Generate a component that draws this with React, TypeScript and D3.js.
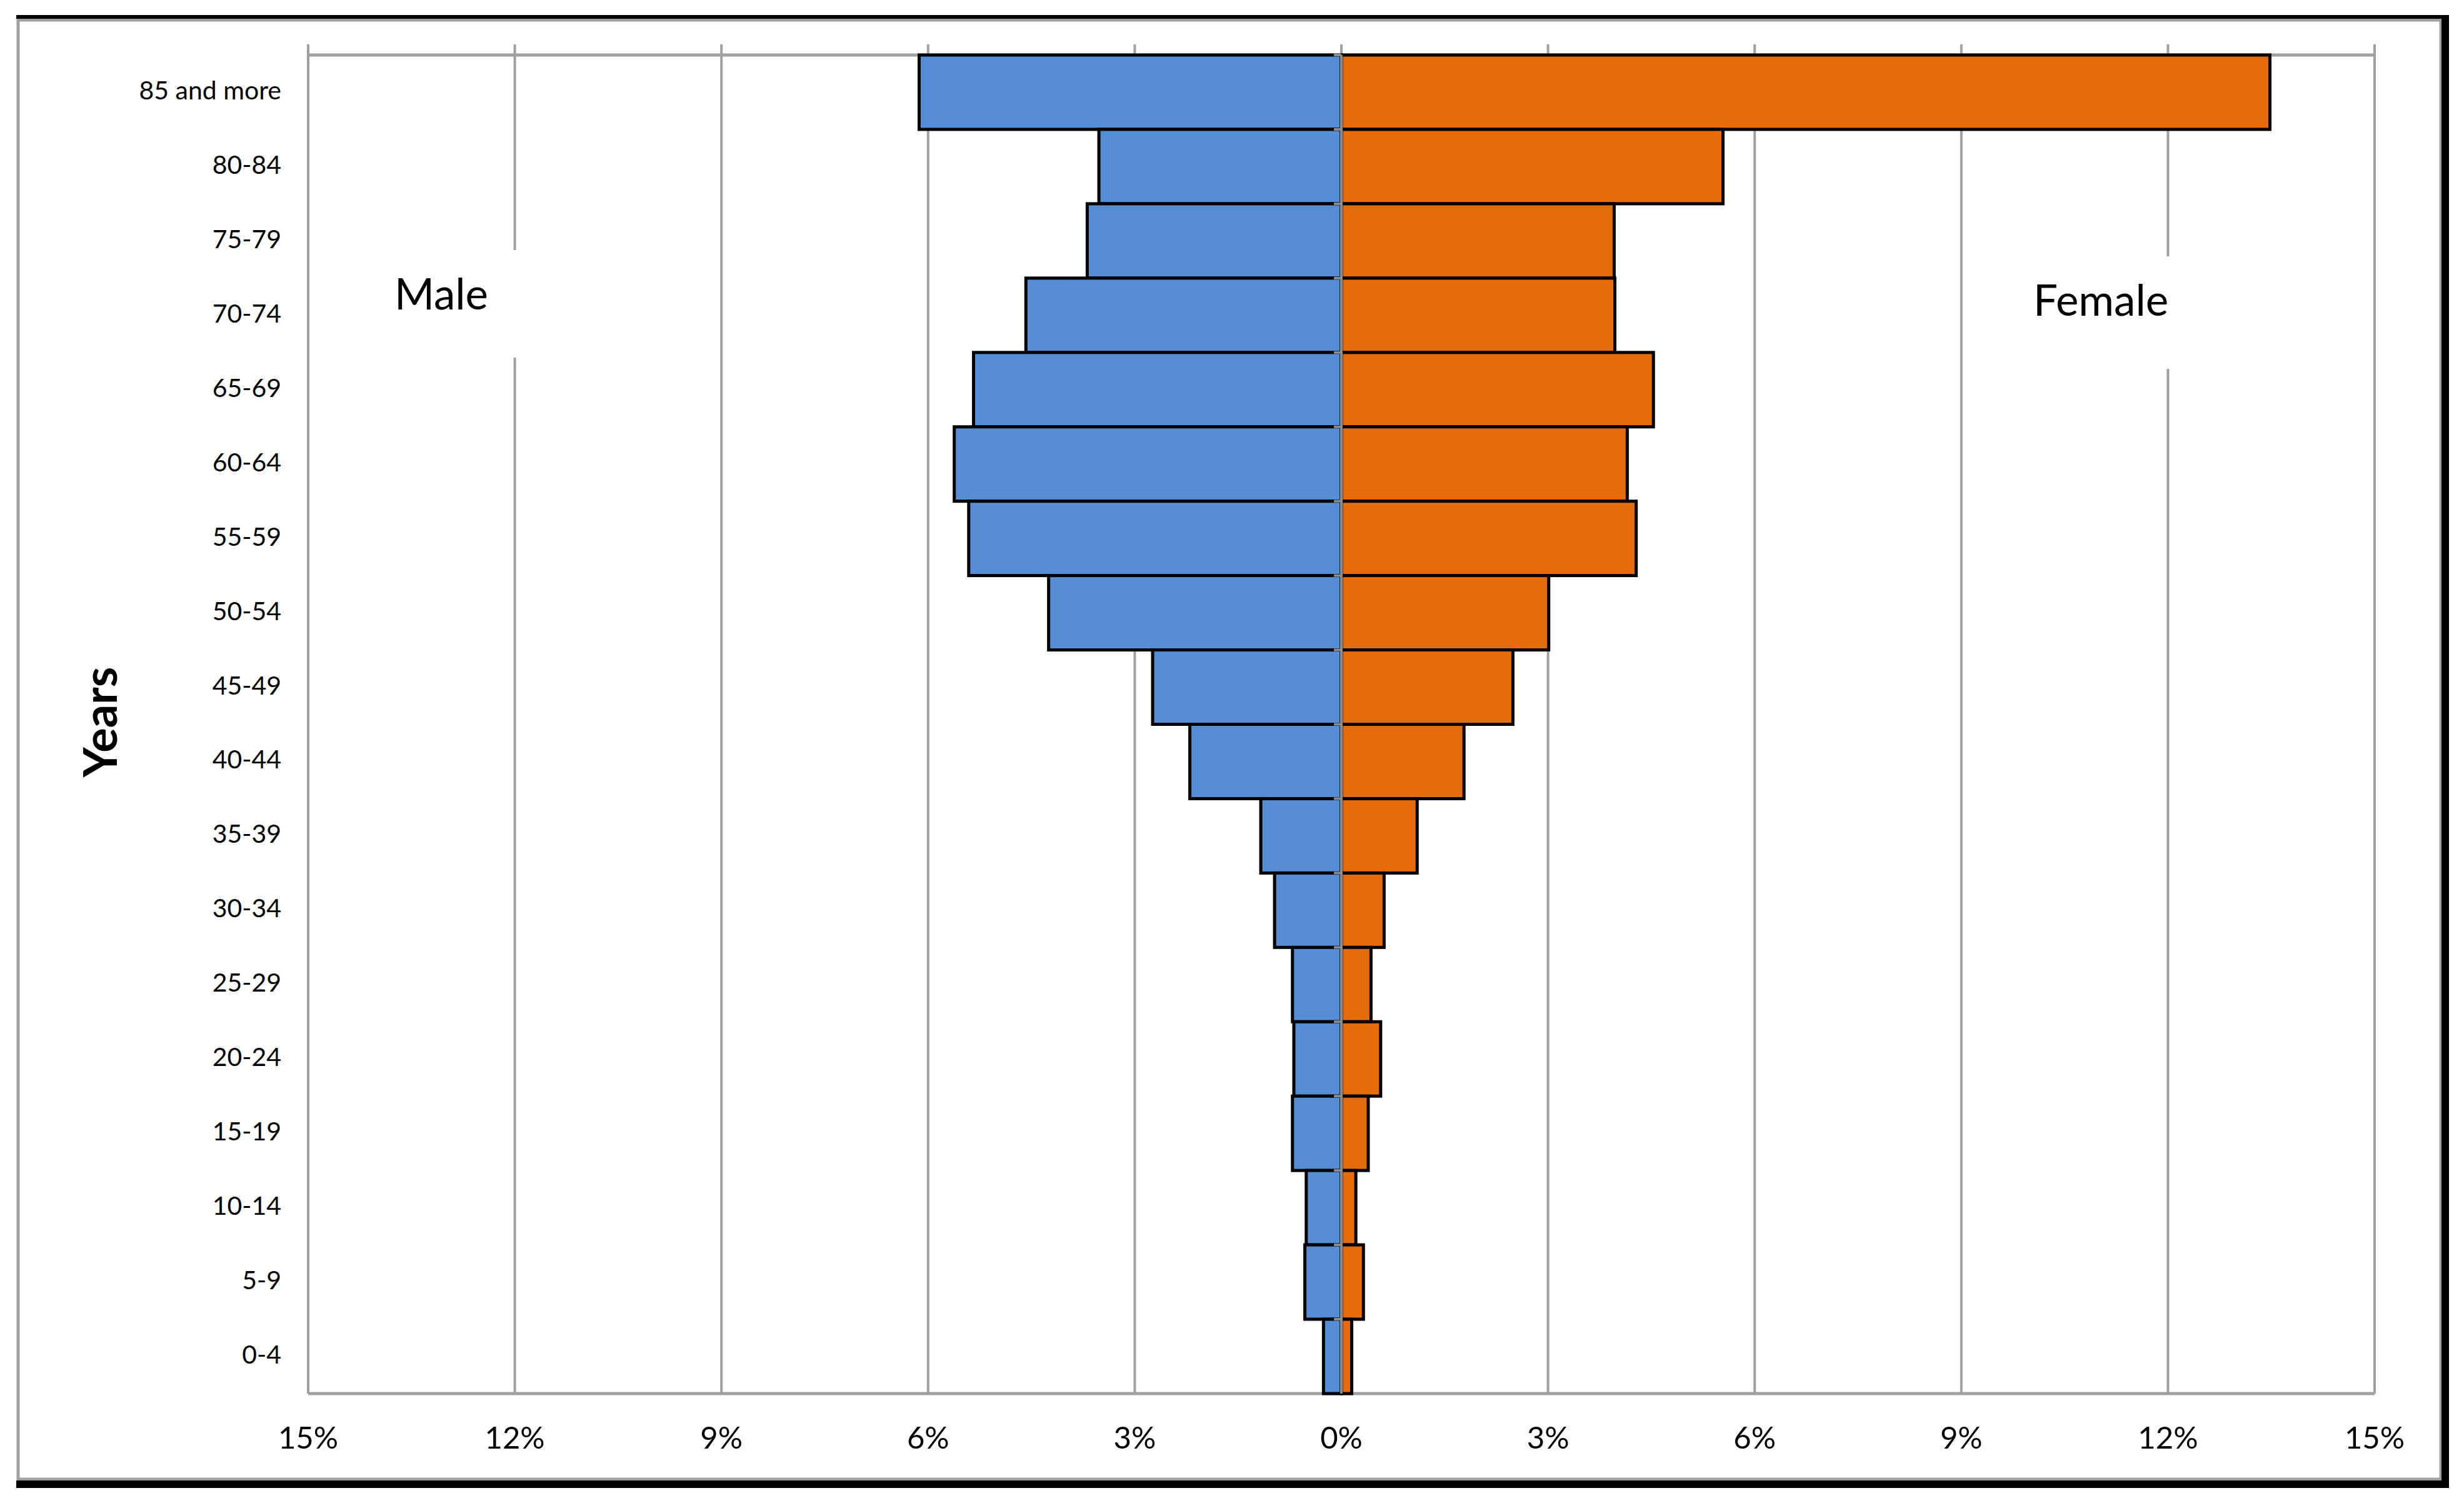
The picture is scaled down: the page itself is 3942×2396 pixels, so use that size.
import React from 'react';
import * as d3 from 'd3';

const ageGroups = [
  '85 and more', '80-84', '75-79', '70-74', '65-69', '60-64', '55-59', '50-54', '45-49',
  '40-44', '35-39', '30-34', '25-29', '20-24', '15-19', '10-14', '5-9', '0-4',
];
const maleValues = [6.13, 3.52, 3.69, 4.58, 5.34, 5.62, 5.41, 4.25, 2.74, 2.2, 1.17, 0.97, 0.71, 0.69, 0.71, 0.51, 0.53, 0.26];
const femaleValues = [13.48, 5.54, 3.96, 3.97, 4.53, 4.15, 4.28, 3.01, 2.49, 1.78, 1.1, 0.62, 0.43, 0.57, 0.39, 0.21, 0.32, 0.15];
const xTicks = [-15, -12, -9, -6, -3, 0, 3, 6, 9, 12, 15];

const W = 3942;
const H = 2396;
const FONT = 'Lato, "Open Sans", sans-serif';

export default function App() {
  const left = 493, right = 3799, top = 88, bottom = 2229;

  const x = d3.scaleLinear().domain([-15, 15]).range([left, right]);
  const y = d3.scaleBand().domain(ageGroups).range([top, bottom]).padding(0);
  const bw = y.bandwidth();
  const zero = x(0);

  return (
    <div style={{ position: 'fixed', left: 0, top: 0, background: '#fff' }}>
      <svg width={W} height={H} style={{ display: 'block' }}>
        <rect x={0} y={0} width={W} height={H} fill="#fff" />

        {/* frame */}
        <rect x={29} y={32} width={3876} height={2334} fill="none" stroke="#a0a0a0" strokeWidth={5} />
        <line x1={26} x2={3918} y1={27} y2={27} stroke="#000" strokeWidth={6} />
        <line x1={3912} x2={3912} y1={24} y2={2380} stroke="#000" strokeWidth={12} />
        <line x1={26} x2={3918} y1={2374} y2={2374} stroke="#000" strokeWidth={12} />

        {/* gridlines */}
        {xTicks.map(t => (
          <line key={'g' + t} x1={x(t)} x2={x(t)} y1={71} y2={bottom} stroke="#a0a0a0" strokeWidth={4} />
        ))}
        <line x1={left} x2={right} y1={top} y2={top} stroke="#a0a0a0" strokeWidth={5} />
        <line x1={left} x2={right} y1={bottom} y2={bottom} stroke="#a0a0a0" strokeWidth={5} />

        {/* series labels with white boxes over the gridlines */}
        <rect x={600} y={400} width={260} height={172} fill="#fff" />
        <text x={706} y={468} fontFamily={FONT} fontSize={69} textAnchor="middle" dominantBaseline="central">Male</text>
        <rect x={3230} y={410} width={270} height={180} fill="#fff" />
        <text x={3361} y={478} fontFamily={FONT} fontSize={69} textAnchor="middle" dominantBaseline="central">Female</text>

        {/* bars */}
        {ageGroups.map((g, i) => (
          <g key={g}>
            <rect x={x(-maleValues[i])} y={y(g)} width={zero - x(-maleValues[i])} height={bw}
              fill="#558ed5" stroke="#000" strokeWidth={5} />
            <rect x={zero} y={y(g)} width={x(femaleValues[i]) - zero} height={bw}
              fill="#e46c0a" stroke="#000" strokeWidth={5} />
          </g>
        ))}

        {/* category axis */}
        <line x1={zero} x2={zero} y1={top} y2={bottom} stroke="#8c8c8c" strokeWidth={4} />
        {ageGroups.map(g => (
          <line key={'t' + g} x1={zero - 12} x2={zero} y1={y(g)} y2={y(g)} stroke="#8c8c8c" strokeWidth={4} />
        ))}

        {/* y labels */}
        {ageGroups.map(g => (
          <text key={'l' + g} x={450} y={(y(g) as number) + bw / 2 - 4} fontFamily={FONT} fontSize={41}
            textAnchor="end" dominantBaseline="central">{g}</text>
        ))}

        {/* x labels */}
        {xTicks.map(t => (
          <text key={'x' + t} x={x(t)} y={2298} fontFamily={FONT} fontSize={49}
            textAnchor="middle" dominantBaseline="central">{Math.abs(t) + '%'}</text>
        ))}

        <text transform="translate(158,1155) rotate(-90)" fontFamily={FONT} fontSize={74} fontWeight="bold"
          textAnchor="middle" dominantBaseline="central">Years</text>
      </svg>
    </div>
  );
}
